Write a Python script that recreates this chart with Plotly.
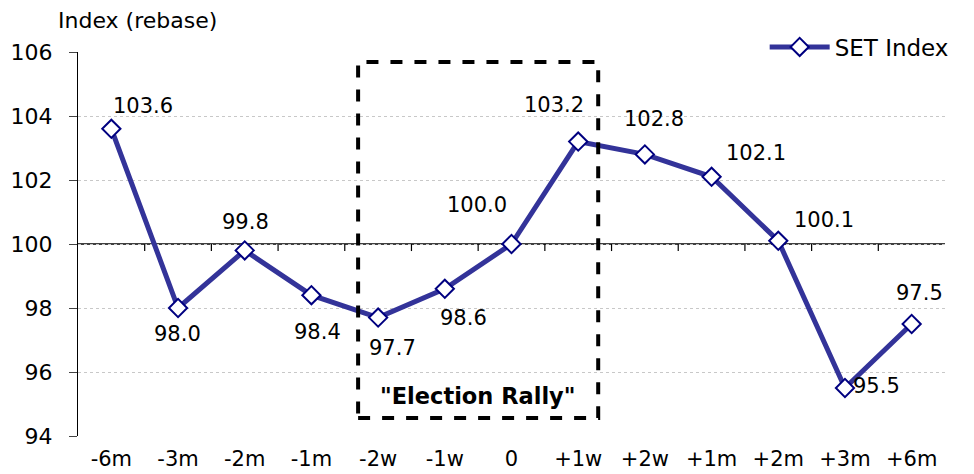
import plotly.graph_objects as go

categories = ["-6m", "-3m", "-2m", "-1m", "-2w", "-1w", "0", "+1w", "+2w", "+1m", "+2m", "+3m", "+6m"]
set_index = [103.6, 98.0, 99.8, 98.4, 97.7, 98.6, 100.0, 103.2, 102.8, 102.1, 100.1, 95.5, 97.5]
y_ticks = [94, 96, 98, 100, 102, 104, 106]

# label offsets in pixels (styling): (right, down)
label_offsets = [(32, -23), (-1, 26), (1, -28), (6, 37), (14, 30), (19, 29), (-35, -39),
                 (-24, -37), (9, -35), (44, -24), (46, -21), (32, -2), (8, -31)]

FONT = "DejaVu Sans, Liberation Sans, Arial, sans-serif"
LINE = "#333399"
MARK = "#000080"

fig = go.Figure()
fig.add_trace(go.Scatter(
    x=categories, y=set_index, mode="lines+markers", name="SET Index",
    line=dict(color=LINE, width=5),
    marker=dict(symbol="diamond", size=14, color="white", line=dict(color=MARK, width=2)),
))

annotations = []
for i, (c, v) in enumerate(zip(categories, set_index)):
    dx, dy = label_offsets[i]
    annotations.append(dict(x=i, y=v, xref="x", yref="y", text=f"{v:.1f}", showarrow=False,
                            xshift=dx, yshift=-dy, font=dict(size=21, color="black", family=FONT)))

annotations.append(dict(x=-0.0254, y=1.081, xref="paper", yref="paper", text="Index (rebase)",
                        showarrow=False, xanchor="left", yanchor="middle",
                        font=dict(size=22, color="black", family=FONT)))
annotations.append(dict(x=5.5, y=95.25, xref="x", yref="y", text='<b>"Election Rally"</b>',
                        showarrow=False, font=dict(size=22.5, color="black", family=FONT)))

shapes = [
    # horizontal axis line at 100
    dict(type="line", xref="paper", yref="y", x0=0, x1=1, y0=100, y1=100,
         line=dict(color="black", width=1.5), layer="between"),
    # dashed election-rally box
    dict(type="rect", xref="x", yref="y", x0=3.7, x1=7.3, y0=94.56, y1=105.69,
         line=dict(color="black", width=4, dash="dash"), layer="above"),
]
# tick marks on the 100 line at category boundaries
for i in range(len(categories) - 1):
    shapes.append(dict(type="line", xref="x", yref="y", x0=i + 0.5, x1=i + 0.5,
                       y0=100, y1=100 - 0.22, line=dict(color="black", width=1.2), layer="between"))

fig.update_layout(
    width=966, height=466,
    margin=dict(l=70, r=29, t=44, b=38, autoexpand=False),
    paper_bgcolor="white", plot_bgcolor="white",
    font=dict(family=FONT, size=21, color="black"),
    showlegend=True,
    legend=dict(x=1.01, y=1.013, xanchor="right", yanchor="middle",
                bgcolor="rgba(0,0,0,0)", font=dict(size=23, family=FONT),
                itemwidth=60),
    annotations=annotations,
    shapes=shapes,
)
fig.update_xaxes(type="category", range=[-0.5, len(categories) - 0.5], showgrid=False,
                 showline=False, ticks="", tickfont=dict(size=21, family=FONT, color="black"),
                 ticklabelstandoff=8, automargin=False)
fig.update_yaxes(range=[94, 106], tickvals=y_ticks, showgrid=True, gridcolor="#c8c8c8",
                 griddash="dot", gridwidth=1, showline=True, linecolor="black", linewidth=1.2,
                 ticks="outside", ticklen=8, tickcolor="#444444", zeroline=False,
                 tickfont=dict(size=22, family=FONT, color="black"), ticklabelstandoff=12,
                 automargin=False)

fig.write_html("out.html")
